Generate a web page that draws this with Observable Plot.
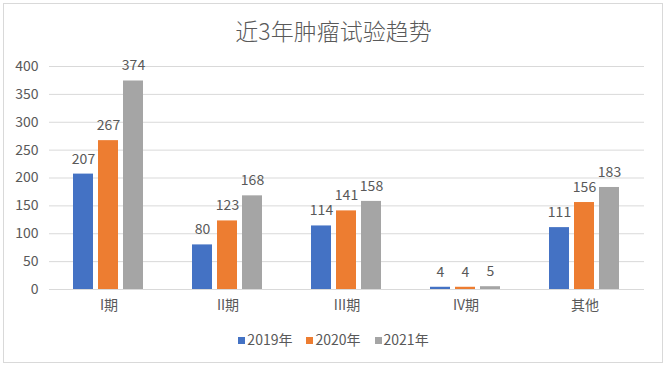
<!DOCTYPE html>
<html><head><meta charset="utf-8">
<script src="https://cdn.jsdelivr.net/npm/d3@7"></script>
<script src="https://cdn.jsdelivr.net/npm/@observablehq/plot@0.6"></script>
<style>
body{margin:0;width:667px;height:368px;position:relative;background:#fff;font-family:"Noto Sans CJK SC","Noto Sans",sans-serif;}
#frame{position:absolute;left:3px;top:3px;width:658px;height:358px;border:1px solid #d9d9d9;}
#title{position:absolute;left:0;top:13px;width:667px;text-align:center;font-size:23px;color:#595959;font-weight:300;}
#chart{position:absolute;left:0;top:50px;}
#legend{position:absolute;left:0;top:329px;width:667px;text-align:center;font-size:14px;color:#595959;}
#legend span{margin:0 7px;}
#legend i{display:inline-block;width:7px;height:7px;margin-right:2px;vertical-align:1px;}
</style></head><body>
<div id="frame"></div>
<div id="title">近3年肿瘤试验趋势</div>
<div id="chart"></div>
<div id="legend"></div>
<script>
const categories = ["I期","II期","III期","IV期","其他"];
const years = ["2019年","2020年","2021年"];
const v2019 = [207, 80, 114, 4, 111];
const v2020 = [267, 123, 141, 4, 156];
const v2021 = [374, 168, 158, 5, 183];
const colors = ["#4472C4","#ED7D31","#A5A5A5"];
const yTicks = [0,50,100,150,200,250,300,350,400];

const series = [v2019, v2020, v2021];
const data = [];
categories.forEach((c, i) => years.forEach((y, j) => data.push({cat: c, year: y, value: series[j][i]})));

const plot = Plot.plot({
  width: 667, height: 269,
  marginLeft: 48, marginRight: 23, marginTop: 16, marginBottom: 30,
  style: {fontFamily: '"Noto Sans CJK SC","Noto Sans",sans-serif', fontSize: "14px", color: "#595959"},
  fx: {domain: categories, paddingInner: 0, paddingOuter: 0, label: null, tickSize: 0, tickPadding: 11, axis: "bottom"},
  x: {domain: years, paddingInner: 0.19, paddingOuter: 0.887, axis: null},
  y: {domain: [0, 400], ticks: yTicks, label: null, tickSize: 0, tickPadding: 11, grid: false},
  color: {domain: years, range: colors},
  marks: [
    Plot.ruleY(yTicks, {stroke: "#d9d9d9", strokeWidth: 1, facetAnchor: null, fx: null}),
    Plot.barY(data, {fx: "cat", x: "year", y: "value", fill: "year"}),
    Plot.text(data, {fx: "cat", x: "year", y: "value", text: d => String(d.value), dy: -15, fill: "#595959", fontSize: 14})
  ]
});
document.getElementById("chart").appendChild(plot);

const lg = document.getElementById("legend");
years.forEach((y, j) => {
  const s = document.createElement("span");
  s.innerHTML = `<i style="background:${colors[j]}"></i>${y}`;
  lg.appendChild(s);
});
</script>
</body></html>
